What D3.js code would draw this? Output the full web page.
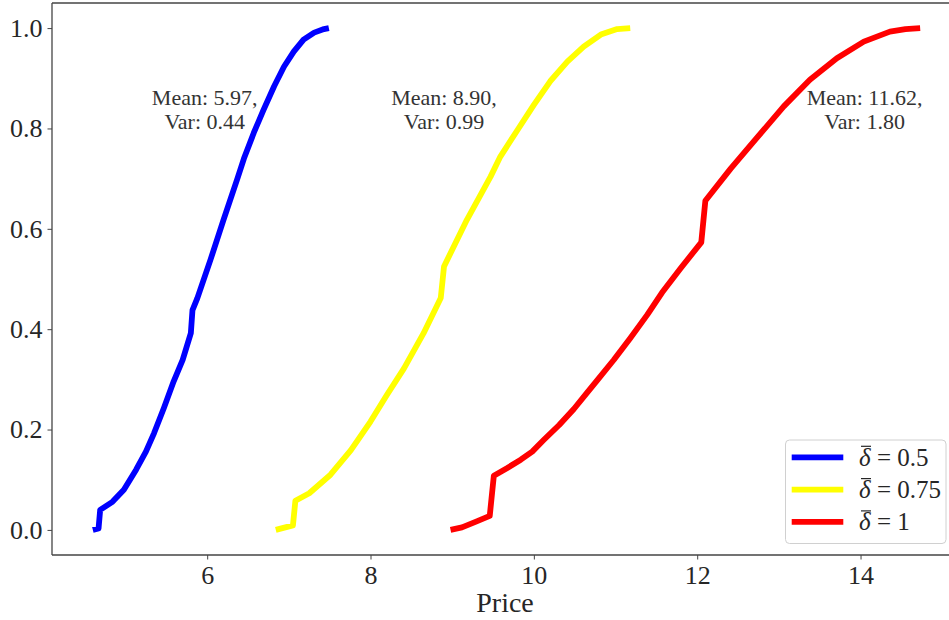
<!DOCTYPE html>
<html>
<head>
<meta charset="utf-8">
<script src="https://cdn.jsdelivr.net/npm/d3@7"></script>
<style>
  html, body { margin: 0; padding: 0; background: #fff; }
  svg { display: block; font-family: "Liberation Serif", "DejaVu Serif", serif; }
  svg text { font-family: "Liberation Serif", "DejaVu Serif", serif; }
</style>
</head>
<body>
<svg id="chart" width="949" height="620"></svg>
<script>
// ---- data ----
const bluePrice = [4.60, 4.67, 4.69, 4.84, 4.98, 5.13, 5.25, 5.35, 5.47, 5.59, 5.70, 5.80, 5.82, 5.88, 6.04, 6.20, 6.37, 6.45, 6.57, 6.69, 6.82, 6.94, 7.06, 7.18, 7.31, 7.43, 7.49];
const blueCdf   = [0, 0.003, 0.04, 0.056, 0.08, 0.12, 0.156, 0.193, 0.243, 0.296, 0.339, 0.392, 0.438, 0.462, 0.538, 0.618, 0.700, 0.740, 0.791, 0.837, 0.884, 0.923, 0.953, 0.977, 0.991, 0.998, 1.0];

const yellowPrice = [6.84, 7.05, 7.08, 7.25, 7.51, 7.76, 8.00, 8.20, 8.41, 8.65, 8.86, 8.90, 9.18, 9.47, 9.59, 9.80, 10.00, 10.20, 10.41, 10.61, 10.82, 11.02, 11.18];
const yellowCdf   = [0, 0.009, 0.058, 0.073, 0.110, 0.159, 0.216, 0.269, 0.322, 0.392, 0.462, 0.525, 0.618, 0.704, 0.744, 0.797, 0.847, 0.894, 0.933, 0.963, 0.987, 0.998, 1.0];

const redPrice = [8.98, 9.12, 9.30, 9.46, 9.51, 9.67, 9.84, 9.98, 10.12, 10.31, 10.49, 10.65, 10.78, 10.98, 11.18, 11.39, 11.57, 11.80, 12.05, 12.10, 12.41, 12.73, 13.06, 13.38, 13.71, 14.04, 14.36, 14.55, 14.73];
const redCdf   = [0, 0.005, 0.017, 0.028, 0.108, 0.123, 0.140, 0.156, 0.179, 0.209, 0.241, 0.273, 0.299, 0.339, 0.382, 0.429, 0.473, 0.522, 0.573, 0.656, 0.720, 0.781, 0.844, 0.897, 0.940, 0.973, 0.993, 0.998, 1.0];

const seriesNames = ["0.5", "0.75", "1"];
const seriesColors = ["#0000ff", "#ffff00", "#ff0000"];
const means = [5.97, 8.90, 11.62];
const variances = [0.44, 0.99, 1.80];
const annotX = [5.97, 8.90, 14.05];
const annotY = 0.847;

const xTicks = [6, 8, 10, 12, 14];
const yTicks = [0.0, 0.2, 0.4, 0.6, 0.8, 1.0];
const xLabel = "Price";

(function () {
  const FONT = "'Liberation Serif', 'DejaVu Serif', serif";
  const svg = d3.select("#chart");
  const mLeft = 52, mTop = 3, mBottom = 555;
  const pxPerUnit = 81.67;
  const xMin = 4.1, xMax = 15.24;
  const x = d3.scaleLinear().domain([xMin, xMax]).range([mLeft, mLeft + (xMax - xMin) * pxPerUnit]);
  const y = d3.scaleLinear().domain([-0.05, 1.05]).range([mBottom, mTop]);

  const series = [
    {price: bluePrice, cdf: blueCdf},
    {price: yellowPrice, cdf: yellowCdf},
    {price: redPrice, cdf: redCdf}
  ];

  svg.append("defs").append("clipPath").attr("id", "clip")
    .append("rect").attr("x", mLeft).attr("y", mTop).attr("width", 949 - mLeft).attr("height", mBottom - mTop);

  const line = d3.line().x(d => x(d[0])).y(d => y(d[1]));
  const g = svg.append("g").attr("clip-path", "url(#clip)");
  series.forEach((s, i) => {
    const pts = s.price.map((p, k) => [p, s.cdf[k]]);
    g.append("path").datum(pts)
      .attr("d", line)
      .attr("fill", "none")
      .attr("stroke", seriesColors[i])
      .attr("stroke-width", 5.8)
      .attr("stroke-linejoin", "round")
      .attr("stroke-linecap", "butt");
  });

  const xAxis = d3.axisBottom(x).tickValues(xTicks).tickFormat(d3.format("d")).tickSize(4.5).tickPadding(6);
  const yAxis = d3.axisLeft(y).tickValues(yTicks).tickFormat(d3.format(".1f")).tickSize(4.5).tickPadding(5);

  const gx = svg.append("g").attr("transform", `translate(0,${mBottom})`).call(xAxis);
  const gy = svg.append("g").attr("transform", `translate(${mLeft},0)`).call(yAxis);
  [gx, gy].forEach(a => {
    a.attr("font-family", FONT);
    a.select(".domain").remove();
    a.selectAll(".tick line").attr("stroke", "#444").attr("stroke-width", 1);
    a.selectAll(".tick text").attr("fill", "#262626").attr("font-size", 26).attr("font-family", FONT);
  });
  gx.selectAll(".tick text").attr("dy", "0.71em");

  svg.append("line").attr("x1", mLeft).attr("x2", 949).attr("y1", mBottom).attr("y2", mBottom)
    .attr("stroke", "#444").attr("stroke-width", 1.3);
  svg.append("line").attr("x1", mLeft).attr("x2", 949).attr("y1", mTop).attr("y2", mTop)
    .attr("stroke", "#444").attr("stroke-width", 1.3);
  svg.append("line").attr("x1", mLeft).attr("x2", mLeft).attr("y1", mTop).attr("y2", mBottom)
    .attr("stroke", "#444").attr("stroke-width", 1.3);

  svg.append("text").attr("x", 505).attr("y", 612).attr("font-family", FONT)
    .attr("text-anchor", "middle").attr("font-size", 28).attr("fill", "#262626").text(xLabel);

  means.forEach((m, i) => {
    const t = svg.append("text").attr("text-anchor", "middle").attr("font-size", 22)
      .attr("fill", "#333").attr("font-family", FONT);
    t.append("tspan").attr("x", x(annotX[i])).attr("y", y(annotY)).text(`Mean: ${m.toFixed(2)},`);
    t.append("tspan").attr("x", x(annotX[i])).attr("dy", 24.5).text(`Var: ${variances[i].toFixed(2)}`);
  });

  const lg = svg.append("g");
  lg.append("rect").attr("x", 785.5).attr("y", 440).attr("width", 160.5).attr("height", 103.5)
    .attr("rx", 4).attr("fill", "#fff").attr("fill-opacity", 0.8)
    .attr("stroke", "#d0d0d0").attr("stroke-width", 1);
  seriesNames.forEach((n, i) => {
    const cy = 457.3 + i * 32.3;
    lg.append("line").attr("x1", 791.7).attr("x2", 843.3).attr("y1", cy).attr("y2", cy)
      .attr("stroke", seriesColors[i]).attr("stroke-width", 5.8);
    const tx = lg.append("text").attr("x", 859).attr("y", cy + 8.5).attr("font-size", 25)
      .attr("fill", "#262626").attr("font-family", FONT);
    tx.append("tspan").attr("font-style", "italic").text("δ");
    tx.append("tspan").text(" = " + n);
    lg.append("line").attr("x1", 861).attr("x2", 871).attr("y1", cy - 11).attr("y2", cy - 11)
      .attr("stroke", "#262626").attr("stroke-width", 1.2);
  });
})();
</script>
</body>
</html>
